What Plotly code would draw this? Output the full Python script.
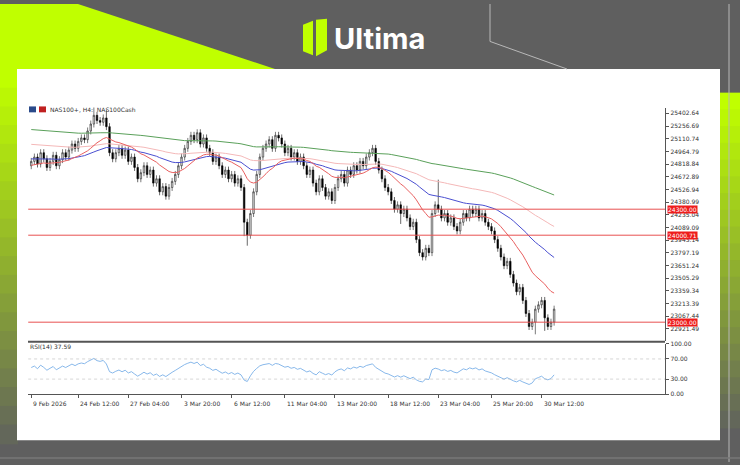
import plotly.graph_objects as go

# NAS100 H4 closes, 9 Feb 2026 -> 30 Mar 2026
closes = [
    24850, 24900, 24820, 24950, 24880, 24780, 24850, 24920, 24800, 24870, 24950, 24900,
    24980, 25050, 25000, 25080, 25120, 25100, 25200, 25280, 25380, 25320, 25300,
    25350, 25250, 24950, 24880, 24950, 25000, 24920, 24980, 24850, 24900, 24780, 24650,
    24720, 24800, 24700, 24750, 24600, 24650, 24500, 24560, 24450, 24550, 24620, 24700,
    24800, 24900, 25000, 25080, 25150, 25100, 25180, 25050, 25120, 25000, 24950, 24850,
    24900, 24800, 24700, 24750, 24650, 24700, 24600, 24650, 24550,
    24150, 24000, 24250, 24500, 24700, 24900, 25000, 25050, 25100, 25000, 25150, 25120,
    25050, 24950, 25000, 24900, 24950, 24850, 24900,
    24800, 24700, 24750, 24600, 24500, 24650, 24550, 24450, 24500, 24400, 24550, 24650,
    24700, 24600, 24750, 24700, 24800, 24750, 24850, 24800, 24900, 24950, 25000, 24850,
    24750, 24650, 24550,
    24500, 24400, 24300, 24350, 24250, 24300, 24200, 24100, 24150, 23950, 23800, 23750,
    23850, 23800, 24250, 24350, 24300, 24200, 24250,
    24150, 24200, 24100, 24050, 24150, 24250, 24200, 24300, 24250, 24300, 24200, 24250,
    24150, 24100, 24050, 23950, 23850, 23750,
    23650, 23700, 23550, 23450, 23350, 23400, 23250, 23100, 22950, 23000, 23150, 23200,
    23250, 23050, 22950, 23000, 23150,
]
first_open = 24800
wick = 40
# extra wick lengths on notable bars: index -> (up, down)
extra_wicks = {20: (60, 0), 24: (50, 0), 68: (0, 120), 69: (0, 80), 118: (0, 80),
               130: (250, 0), 161: (0, 100), 164: (0, 110)}

price_ticks = [25402.64, 25256.69, 25110.74, 24964.79, 24818.84, 24672.89, 24526.94,
               24380.99, 24235.04, 24089.09, 23943.14, 23797.19, 23651.24, 23505.29,
               23359.34, 23213.39, 23067.44, 22921.49]
levels = [24300.00, 24000.71, 23000.00]

tick_idx = [0, 15, 31, 48, 64, 81, 97, 114, 130, 147, 163]
tick_text = ["9 Feb 2026", "24 Feb 12:00", "27 Feb 04:00", "3 Mar 20:00", "6 Mar 12:00",
             "11 Mar 04:00", "13 Mar 20:00", "18 Mar 12:00", "23 Mar 04:00",
             "25 Mar 20:00", "30 Mar 12:00"]

ma_specs = [  # (period, seed from earlier history, colour)
    (200, 25220, "#5aa05a"),
    (100, 25050, "#f4b8b8"),
    (50, 24880, "#4a4fd0"),
    (20, 24800, "#e86060"),
]

LIME = "#c0ff00"
GRAY = "#5f5f5f"

x = list(range(len(closes)))
opens = [first_open] + closes[:-1]
highs, lows = [], []
for i, (o, c) in enumerate(zip(opens, closes)):
    up, dn = extra_wicks.get(i, (0, 0))
    highs.append(max(o, c) + wick + up)
    lows.append(min(o, c) - wick - dn)

fig = go.Figure()

for period, seed, col in ma_specs:
    a = 2 / (period + 1)
    e, vals = seed, []
    for c in closes:
        e += a * (c - e)
        vals.append(e)
    fig.add_trace(go.Scatter(x=x, y=vals, mode="lines", line=dict(color=col, width=1),
                             hoverinfo="skip", showlegend=False))

fig.add_trace(go.Candlestick(
    x=x, open=opens, high=highs, low=lows, close=closes, whiskerwidth=0,
    increasing=dict(line=dict(color="#222222", width=0.6), fillcolor="#e8e8e8"),
    decreasing=dict(line=dict(color="#000000", width=0.6), fillcolor="#000000"),
    showlegend=False))

# RSI(14), Wilder smoothing
gain, loss, rsi = 30.0, 30.0, []
prev = first_open
for c in closes:
    d = c - prev
    prev = c
    gain = (gain * 13 + max(d, 0)) / 14
    loss = (loss * 13 + max(-d, 0)) / 14
    rsi.append(100 - 100 / (1 + gain / loss))
fig.add_trace(go.Scatter(x=x, y=rsi, xaxis="x2", yaxis="y2", mode="lines",
                         line=dict(color="#7ab0e8", width=0.9), showlegend=False))

font = dict(family="DejaVu Sans", size=6, color="#333333")
fig.update_layout(
    width=740, height=465, margin=dict(l=0, r=0, t=0, b=0),
    paper_bgcolor=GRAY, plot_bgcolor="white", font=font,
    xaxis=dict(domain=[0.038, 0.899], range=[-1, 202.5], showticklabels=False,
               showgrid=False, zeroline=False, rangeslider=dict(visible=False),
               anchor="y"),
    yaxis=dict(domain=[0.2645, 0.774], range=[22785, 25470], side="right",
               tickvals=price_ticks, ticktext=[f"{v:.2f}" for v in price_ticks],
               ticks="outside", ticklen=3, tickcolor="#555", showgrid=False,
               zeroline=False, showline=True, linecolor="#555", linewidth=1,
               anchor="x"),
    xaxis2=dict(domain=[0.038, 0.899], range=[-1, 202.5], matches="x", anchor="y2",
                tickvals=tick_idx, ticktext=[""] * len(tick_idx), ticks="outside",
                ticklen=3, tickcolor="#555", showgrid=False, zeroline=False,
                showline=True, linecolor="#555"),
    yaxis2=dict(domain=[0.148, 0.258], range=[0, 100], side="right",
                tickvals=[0, 30, 70, 100], ticktext=["0.00", "30.00", "70.00", "100.00"],
                ticks="outside", ticklen=3, tickcolor="#555", showgrid=False,
                zeroline=False, showline=True, linecolor="#555", anchor="x2"),
)


def px_rect(x0, y0, x1, y1, **kw):
    return dict(type="rect", xref="paper", yref="paper", x0=x0 / 740, x1=x1 / 740,
                y0=1 - y0 / 465, y1=1 - y1 / 465, **kw)


def px_line(x0, y0, x1, y1, **kw):
    return dict(type="line", xref="paper", yref="paper", x0=x0 / 740, x1=x1 / 740,
                y0=1 - y0 / 465, y1=1 - y1 / 465, **kw)


def px_path(pts, **kw):
    p = " L".join(f"{a / 740},{1 - b / 465}" for a, b in pts)
    return dict(type="path", xref="paper", yref="paper", path=f"M{p} Z", **kw)


shapes = [px_path([(0, 0), (78, 0), (275, 66), (0, 66)], fillcolor=LIME, line_width=0,
                  layer="below")]
# lime-to-gray fades down the left and right edges
n = 20
for k in range(n):
    t = k / n
    r = int(0xc0 + (0x5f - 0xc0) * t)
    g = int(0xff + (0x5f - 0xff) * t)
    b = int(0x5f * t)
    col = f"rgb({r},{g},{b})"
    shapes.append(px_rect(0, 66 + k * 19, 18, 66 + (k + 1) * 19 + 1, fillcolor=col,
                          line_width=0, layer="below"))
    shapes.append(px_rect(720, 90 + k * 17, 740, 90 + (k + 1) * 17 + 1, fillcolor=col,
                          line_width=0, layer="below"))

shapes += [
    px_rect(17, 66, 720, 443, fillcolor="white", line_width=0, layer="below"),
    px_line(490, 0, 490, 38, line=dict(color="#b8b8b8", width=1)),
    px_line(490, 38, 567, 66, line=dict(color="#b8b8b8", width=1)),
    px_line(729, 0, 729, 465, line=dict(color="#b8b8b8", width=1)),
    px_line(0, 461, 740, 461, line=dict(color="#777777", width=1.5)),
    px_line(28, 343, 665, 343, line=dict(color="#555555", width=2)),
    # logo mark
    px_path([(303, 21), (313, 17), (313, 52), (303, 48)], fillcolor=LIME, line_width=0),
    px_path([(316, 16), (327, 15), (327, 47), (316, 53)], fillcolor=LIME, line_width=0),
    # tiny legend icons
    px_rect(29, 104, 36, 110, fillcolor="#2a4a8a", line_width=0),
    px_rect(39, 104, 46, 110, fillcolor="#c02020", line_width=0),
]
for lv in levels:
    shapes.append(dict(type="line", xref="x", yref="y", x0=-1, x1=202.5, y0=lv, y1=lv,
                       line=dict(color="#e85050", width=1)))
for lv in (30, 70):
    shapes.append(dict(type="line", xref="x2", yref="y2", x0=-1, x1=202.5, y0=lv, y1=lv,
                       line=dict(color="#bbbbbb", width=0.6, dash="dot")))
fig.update_layout(shapes=shapes)

ann = [
    dict(text="<b>Ultima</b>", x=332 / 740, y=1 - 35 / 465, xref="paper", yref="paper",
         xanchor="left", yanchor="middle", showarrow=False,
         font=dict(family="Inter", size=29, color="white")),
    dict(text="NAS100+, H4:  NAS100Cash", x=48 / 740, y=1 - 107 / 465, xref="paper",
         yref="paper", xanchor="left", yanchor="middle", showarrow=False, font=font),
    dict(text="RSI(14) 37.59", x=28 / 740, y=1 - 348 / 465, xref="paper", yref="paper",
         xanchor="left", yanchor="middle", showarrow=False, font=font),
]
for lv in levels:
    ann.append(dict(text=f"{lv:.2f}", x=1, xref="x domain", y=lv, yref="y", xanchor="left",
                    yanchor="middle", showarrow=False, bgcolor="#ee1c1c",
                    font=dict(family="DejaVu Sans", size=6, color="white"), borderpad=0,
                    xshift=2))
for i, t in zip(tick_idx, tick_text):
    ann.append(dict(text=t, x=i, xref="x2", y=0, yref="y2", xanchor="left", yanchor="top",
                    yshift=-4, showarrow=False, font=font))
fig.update_layout(annotations=ann)

fig.write_html("out.html", config={"displayModeBar": False},
               post_script="document.body.style.margin='0';")
